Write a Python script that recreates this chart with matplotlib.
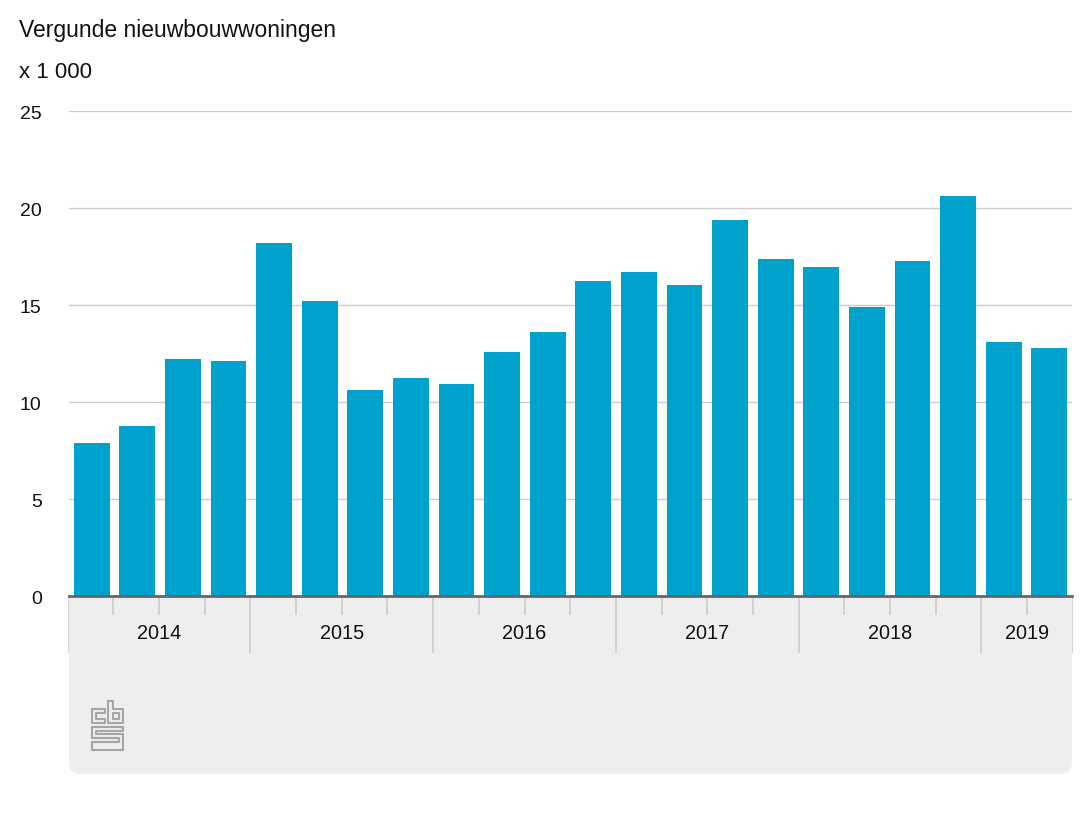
import matplotlib.pyplot as plt
from matplotlib.patches import FancyBboxPatch, Rectangle
from matplotlib.transforms import ScaledTranslation

plt.rcParams['font.family'] = ['Liberation Sans', 'DejaVu Sans']

W, H = 1090, 818

# Vergunde nieuwbouwwoningen per kwartaal (x 1 000)
values = [7.9, 8.75, 12.2, 12.1,
          18.2, 15.2, 10.6, 11.2,
          10.9, 12.55, 13.6, 16.2,
          16.7, 16.0, 19.35, 17.35,
          16.95, 14.9, 17.25, 20.6,
          13.1, 12.75]
years = ['2014', '2015', '2016', '2017', '2018', '2019']
quarters_per_year = [4, 4, 4, 4, 4, 2]
y_ticks = [0, 5, 10, 15, 20, 25]


def px_axes(x0, y0, x1, y1):
    # axes from pixel box, y measured from the top
    a = fig.add_axes([x0 / W, 1 - y1 / H, (x1 - x0) / W, (y1 - y0) / H])
    a.patch.set_visible(False)
    return a


fig = plt.figure(figsize=(W / 100, H / 100), dpi=100)

# grey panel under the axis, rounded at the bottom only
bg = px_axes(0, 0, W, H)
bg.set_xlim(0, W)
bg.set_ylim(H, 0)
bg.axis('off')
bg.add_patch(FancyBboxPatch((79, 607), 983, 157, boxstyle='round,pad=10,rounding_size=12',
                            facecolor='#eeeeee', edgecolor='none'))
bg.add_patch(Rectangle((69, 597), 1003, 40, facecolor='#eeeeee', edgecolor='none'))

# tick strip
tk = px_axes(67.7, 597, 1072.7, 653)
tk.set_xlim(0, sum(quarters_per_year))
tk.set_ylim(56, 0)
tk.axis('off')
pos = 0
tk.plot([0, 0], [0, 56], color='#cccccc', lw=1.2)
for year, n in zip(years, quarters_per_year):
    for q in range(1, n):
        tk.plot([pos + q, pos + q], [0, 17], color='#cccccc', lw=1.2)
    tk.plot([pos + n, pos + n], [0, 56], color='#cccccc', lw=1.2)
    tk.text(pos + n / 2, 36.5, year, ha='center', va='center', fontsize=14.3, color='#111111')
    pos += n

# main chart
ax = px_axes(68.9, 110.5, 1072.1, 596)
ax.bar(range(len(values)), values, width=0.785, color='#00a1cd', zorder=3)
ax.set_xlim(-0.5, len(values) - 0.5)
ax.set_ylim(0, 25)
ax.set_yticks(y_ticks)
ax.set_xticks([])
ax.grid(axis='y', color='#cccccc', lw=1)
ax.set_axisbelow(True)
ax.tick_params(axis='y', length=0, pad=19.6, labelsize=14, labelcolor='#111111')
offset = ScaledTranslation(0, -1.5 / 100, fig.dpi_scale_trans)
for lab in ax.get_yticklabels():
    lab.set_transform(lab.get_transform() + offset)
for s in ['top', 'right', 'left']:
    ax.spines[s].set_visible(False)
ax.spines['bottom'].set_color('#666666')
ax.spines['bottom'].set_linewidth(2)
ax.spines['bottom'].set_zorder(4)

fig.text(19 / W, 1 - 31 / H, 'Vergunde nieuwbouwwoningen', fontsize=16.5,
         va='center', ha='left', color='#111111')
fig.text(19 / W, 1 - 72 / H, 'x 1 000', fontsize=16, va='center', ha='left', color='#111111')

# cbs logo
logo = px_axes(88, 698, 127, 754)
logo.set_xlim(88, 127)
logo.set_ylim(754, 698)
logo.axis('off')
logo_paths = [
    [(105, 709), (92, 709), (92, 723), (105, 723), (105, 719), (96, 719), (96, 713), (105, 713), (105, 709)],
    [(108, 701), (113, 701), (113, 709), (123, 709), (123, 723), (108, 723), (108, 701)],
    [(113, 713), (119, 713), (119, 719), (113, 719), (113, 713)],
    [(123, 727), (92, 727), (92, 738), (119, 738), (119, 742), (92, 742), (92, 750), (123, 750),
     (123, 734), (96, 734), (96, 731), (123, 731), (123, 727)],
]
for p in logo_paths:
    logo.plot([a for a, b in p], [b for a, b in p], color='#a6a6a6', lw=1.5)

fig.savefig('out.png', dpi=100)
